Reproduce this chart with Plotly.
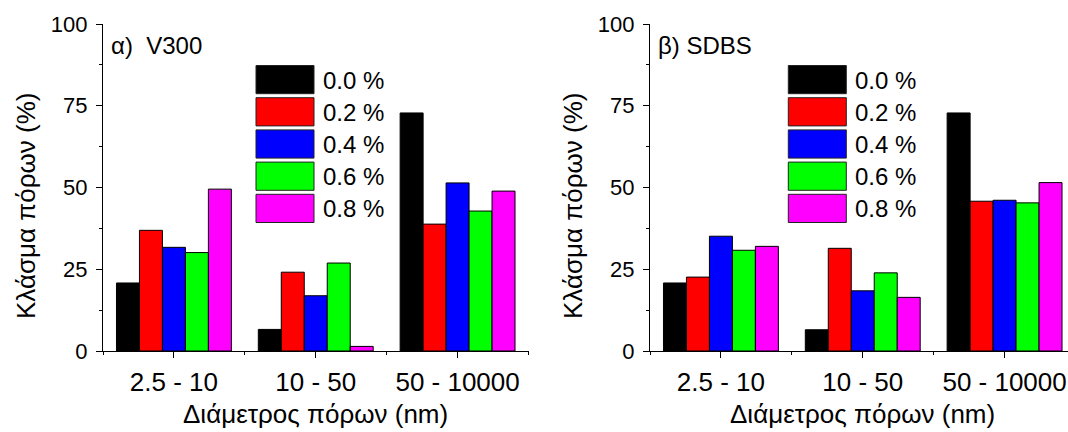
import plotly.graph_objects as go

# Pore-size classes and additive concentrations
categories = ["2.5 - 10", "10 - 50", "50 - 10000"]
concentrations = ["0.0 %", "0.2 %", "0.4 %", "0.6 %", "0.8 %"]
colors = ["#000000", "#FF0000", "#0000FF", "#00FF00", "#FF00FF"]

# Pore fraction (%) per concentration, panel α) V300
v300_00 = [20.8, 6.6, 72.8]
v300_02 = [36.9, 24.1, 38.8]
v300_04 = [31.7, 16.9, 51.4]
v300_06 = [30.1, 26.9, 42.8]
v300_08 = [49.5, 1.4, 48.9]

# Pore fraction (%) per concentration, panel β) SDBS
sdbs_00 = [20.8, 6.5, 72.8]
sdbs_02 = [22.6, 31.4, 45.8]
sdbs_04 = [35.1, 18.4, 46.1]
sdbs_06 = [30.8, 23.9, 45.3]
sdbs_08 = [32.0, 16.4, 51.5]

y_ticks = [0, 25, 50, 75, 100]
y_minor = [12.5, 37.5, 62.5, 87.5]

panels = [
    ("α)\u00a0 V300", [v300_00, v300_02, v300_04, v300_06, v300_08]),
    ("β) SDBS", [sdbs_00, sdbs_02, sdbs_04, sdbs_06, sdbs_08]),
]

FONT = "Liberation Sans, Arial, sans-serif"
W, H = 1068, 432
ML, MR, MT, MB = 103, 0, 24, 81
PW, PH = W - ML - MR, H - MT - MB


def px(x):
    return (x - ML) / PW


def py(y):
    return (H - MB - y) / PH


x_pos = list(range(len(categories)))

fig = go.Figure()
for p, (label, series) in enumerate(panels):
    xa = "x" if p == 0 else "x2"
    ya = "y" if p == 0 else "y2"
    for name, vals, col in zip(concentrations, series, colors):
        fig.add_trace(go.Bar(
            x=x_pos, y=vals, name=name, xaxis=xa, yaxis=ya,
            marker=dict(color=col, line=dict(color="#000000", width=1)),
            offsetgroup=name, showlegend=False,
        ))

axis_common = dict(
    showline=True, linecolor="black", linewidth=1.2, showgrid=False,
    zeroline=False, ticks="outside", ticklen=6, tickwidth=1, tickcolor="black",
)
xaxis_common = dict(
    axis_common,
    tickvals=x_pos, ticktext=categories,
    tickfont=dict(family=FONT, size=26, color="black"),
    minor=dict(tickvals=[-0.5, 0.5, 1.5, 2.5], ticks="outside", ticklen=3,
               tickwidth=1, tickcolor="black"),
    ticklabelstandoff=2,
)
yaxis_common = dict(
    axis_common, range=[0, 100], tickvals=y_ticks,
    tickfont=dict(family=FONT, size=22, color="black"),
    minor=dict(tickvals=y_minor, ticks="outside", ticklen=3, tickwidth=1,
               tickcolor="black"),
    ticklabelstandoff=4,
)

left_x0, left_x1 = 103, 528.5
right_x0, right_x1 = 650, 1068
unit = (left_x1 - left_x0) / 3.0

fig.update_layout(
    width=W, height=H,
    margin=dict(l=ML, r=MR, t=MT, b=MB, pad=0),
    paper_bgcolor="white", plot_bgcolor="white",
    barmode="group", bargap=0.19, bargroupgap=0,
    xaxis=dict(xaxis_common, domain=[px(left_x0), px(left_x1)],
               range=[-0.5, 2.5], anchor="y"),
    yaxis=dict(yaxis_common, domain=[0, 1], anchor="x"),
    xaxis2=dict(xaxis_common, domain=[px(right_x0), 1],
                range=[-0.5, -0.5 + (right_x1 - right_x0) / unit], anchor="y2"),
    yaxis2=dict(yaxis_common, domain=[0, 1], anchor="x2"),
    font=dict(family=FONT, color="black"),
)

annotations = []
shapes = []
row_tops = [65.5, 97.7, 129.9, 162.1, 194.3]
swatch_h = 28.2
for p, (label, series) in enumerate(panels):
    ax0 = left_x0 if p == 0 else right_x0
    ax_mid = (left_x0 + left_x1) / 2 + (0 if p == 0 else right_x0 - left_x0)
    # axis titles
    annotations.append(dict(
        text="Διάμετρος πόρων (nm)", xref="paper", yref="paper",
        x=px(ax_mid), y=py(414), xanchor="center", yanchor="middle",
        showarrow=False, font=dict(family=FONT, size=26, color="black")))
    annotations.append(dict(
        text="Κλάσμα πόρων (%)", xref="paper", yref="paper",
        x=px(ax0 - 77), y=py(206), xanchor="center", yanchor="middle",
        textangle=-90, showarrow=False,
        font=dict(family=FONT, size=26, color="black")))
    # panel label
    annotations.append(dict(
        text=label, xref="paper", yref="paper",
        x=px(ax0 + 6), y=py(46), xanchor="left", yanchor="middle",
        showarrow=False, font=dict(family=FONT, size=24, color="black")))
    # legend block
    sw_x0 = 256 if p == 0 else 788.3
    sw_x1 = sw_x0 + 58
    for top, name, col in zip(row_tops, concentrations, colors):
        shapes.append(dict(
            type="rect", xref="paper", yref="paper",
            x0=px(sw_x0), x1=px(sw_x1), y0=py(top + swatch_h), y1=py(top),
            fillcolor=col, line=dict(color="#222222", width=1)))
        annotations.append(dict(
            text=name, xref="paper", yref="paper",
            x=px(sw_x1 + 7), y=py(top + swatch_h / 2 + 0.5),
            xanchor="left", yanchor="middle", showarrow=False,
            font=dict(family=FONT, size=24, color="black")))

fig.update_layout(annotations=annotations, shapes=shapes)
fig.write_html("out.html")
